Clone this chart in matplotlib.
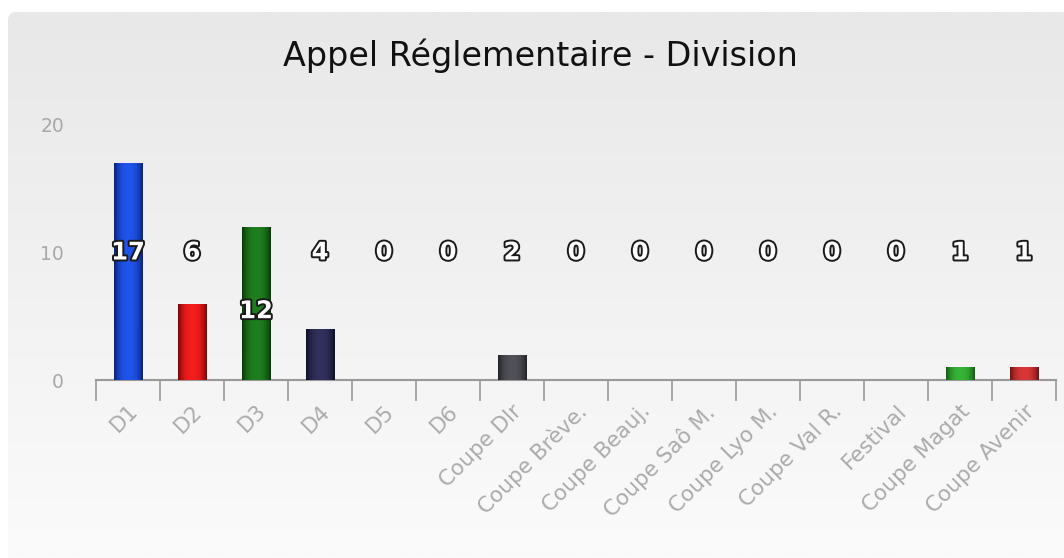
import numpy as np
import matplotlib
matplotlib.use("Agg")
import matplotlib.pyplot as plt
import matplotlib.patheffects as pe
import matplotlib.transforms as mtrans
from matplotlib.colors import to_rgb
from matplotlib.patches import FancyBboxPatch

categories = ["D1", "D2", "D3", "D4", "D5", "D6", "Coupe Dlr", "Coupe Brève.",
              "Coupe Beauj.", "Coupe Saô M.", "Coupe Lyo M.", "Coupe Val R.",
              "Festival", "Coupe Magat", "Coupe Avenir"]
values = [17, 6, 12, 4, 0, 0, 2, 0, 0, 0, 0, 0, 0, 1, 1]
bar_colors = ["#0b3fd6", "#e00808", "#0a6a0a", "#1c1c48", "#3a3a90", "#5a5a5a",
              "#3c3c44", "#777777", "#777777", "#777777", "#777777", "#777777",
              "#777777", "#22a022", "#c42222"]
title = "Appel Réglementaire - Division"
y_ticks = [0, 10, 20]

# where the value labels sit (the 12 was pushed down in the original)
label_y = [10, 10, 5.4, 10, 10, 10, 10, 10, 10, 10, 10, 10, 10, 10, 10]

fig = plt.figure(figsize=(10.64, 5.58), dpi=100)
fig.patch.set_facecolor("white")

# background panel with vertical gradient
bg = fig.add_axes([0, 0, 1, 1], zorder=-10)
bg.set_xlim(0, 1064)
bg.set_ylim(558, 0)
grad = np.linspace(0, 1, 256).reshape(-1, 1)
top = np.array(to_rgb("#e8e8e8"))
bot = np.array(to_rgb("#fbfbfb"))
img = top + (bot - top) * grad[:, :, None]
panel = FancyBboxPatch((8, 12), 1064, 560, boxstyle="round,pad=0,rounding_size=8",
                       facecolor="none", edgecolor="none")
bg.add_patch(panel)
im_bg = bg.imshow(img, aspect="auto", extent=[8, 1064, 558, 12])
im_bg.set_clip_path(panel)
bg.axis("off")

ax = fig.add_axes([96 / 1064, 1 - 380 / 558, 960 / 1064, 255 / 558])
ax.patch.set_alpha(0)

x = np.arange(len(categories))
bars = ax.bar(x, values, width=0.44, color=bar_colors, zorder=2)

# horizontal shading on each bar
shade = np.abs(np.linspace(-1, 1, 64))
for b, c in zip(bars, bar_colors):
    if b.get_height() <= 0:
        continue
    base = np.array(to_rgb(c))
    light = np.clip(base + 0.08, 0, 1)
    dark = base * 0.55
    row = light[None, :] + (dark - light)[None, :] * shade[:, None] ** 2.5
    im = ax.imshow(row[None, :, :], aspect="auto",
                   extent=[b.get_x(), b.get_x() + b.get_width(), 0, b.get_height()],
                   zorder=3)
    im.set_clip_path(b)

for xi, v, ly in zip(x, values, label_y):
    ax.text(xi, ly, str(v), ha="center", va="center", fontsize=17.5,
            fontweight="bold", color="white", zorder=5,
            path_effects=[pe.withStroke(linewidth=2.8, foreground="#1a1a1a")])

ax.set_xlim(-0.5, len(categories) - 0.5)
ax.set_ylim(0, 20)
ax.set_yticks(y_ticks)
ax.set_yticklabels([str(t) for t in y_ticks], color="#a8a8a8", fontsize=13.5)
ax.tick_params(axis="y", length=0, pad=23)

ax.set_xticks(x)
ax.set_xticklabels(categories, rotation=45, ha="right", va="top",
                   rotation_mode="anchor", color="#ababab", fontsize=15.5)
shift = mtrans.ScaledTranslation(-9 / 72, 0, fig.dpi_scale_trans)
for lab in ax.get_xticklabels():
    lab.set_transform(lab.get_transform() + shift)
ax.tick_params(axis="x", which="major", length=0, pad=15)
ax.set_xticks(np.arange(len(categories) + 1) - 0.5, minor=True)
ax.tick_params(axis="x", which="minor", length=15, width=1.2, color="#999999")

for s in ["top", "right", "left"]:
    ax.spines[s].set_visible(False)
ax.spines["bottom"].set_color("#999999")
ax.spines["bottom"].set_linewidth(1.5)

fig.text(0.508, 0.9, title, ha="center", va="center", fontsize=24, color="#111111")

fig.savefig("out.png", dpi=100)
